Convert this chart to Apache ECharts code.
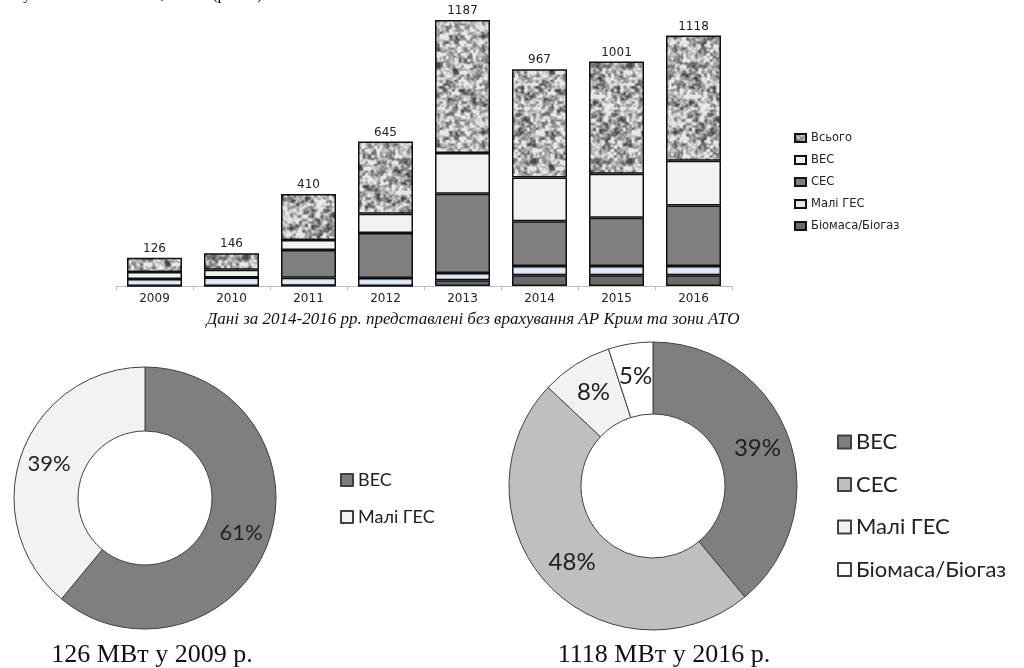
<!DOCTYPE html>
<html><head><meta charset="utf-8">
<script src="https://cdn.jsdelivr.net/npm/echarts@6/dist/echarts.min.js"></script>
<style>html,body{margin:0;padding:0;background:#fff}#c{width:1024px;height:668px}</style>
</head><body><div id="c"></div>
<script>
// ---- data ----
const years = ['2009','2010','2011','2012','2013','2014','2015','2016'];
const biomass    = [0, 0, 3, 0, 51, 95, 95, 95];
const smallHydro = [62, 76, 71, 71, 65, 83, 83, 83];
const solar      = [0, 0, 247, 402, 708, 399, 431, 541];
const wind       = [64, 70, 89, 172, 363, 390, 392, 399];
const totals     = [126, 146, 410, 645, 1187, 967, 1001, 1118];
const barLegend  = ['Всього','ВЕС','СЕС','Малі ГЕС','Біомаса/Біогаз'];
const pie2009Names = ['ВЕС','Малі ГЕС'];
const pie2009Vals  = [61, 39];
const pie2016Names = ['ВЕС','СЕС','Малі ГЕС','Біомаса/Біогаз'];
const pie2016Vals  = [39, 48, 8, 5];
const captionNote = 'Дані за 2014-2016 рр. представлені без врахування АР Крим та зони АТО';
const caption2009 = '126 МВт у 2009 р.';
const caption2016 = '1118 МВт у 2016 р.';
const topText = 'потужність склала 1118,7 МВт (рис. 4).';

// granite-like texture (deterministic)
function makeTexture(){
  const S=96, cv=document.createElement('canvas'); cv.width=cv.height=S;
  const ctx=cv.getContext('2d'); const img=ctx.createImageData(S,S);
  function h(i,j,p){ i=((i%p)+p)%p; j=((j%p)+p)%p; const s=Math.sin(i*127.1+j*311.7+p*74.7)*43758.5453; return s-Math.floor(s); }
  function noise(x,y,cell){ const p=S/cell, gx=x/cell, gy=y/cell, i=Math.floor(gx), j=Math.floor(gy);
    const fx=gx-i, fy=gy-j, sx=fx*fx*(3-2*fx), sy=fy*fy*(3-2*fy);
    const a=h(i,j,p), b=h(i+1,j,p), c=h(i,j+1,p), d=h(i+1,j+1,p);
    return a+(b-a)*sx+(c-a)*sy+(a-b-c+d)*sx*sy; }
  for(let y=0;y<S;y++) for(let x=0;x<S;x++){
    const v=0.3*noise(x,y,6)+0.45*noise(x,y,3)+0.25*noise(x,y,2);
    let g=170+(0.5-v)*340; g=Math.max(70,Math.min(232,g));
    const k=(y*S+x)*4; img.data[k]=g; img.data[k+1]=g; img.data[k+2]=g; img.data[k+3]=255;
  }
  ctx.putImageData(img,0,0); return cv;
}
const tex = makeTexture();
const hydroFill = {type:'linear',x:0,y:0,x2:0,y2:1,colorStops:[{offset:0,color:'#b6c8e8'},{offset:0.5,color:'#e9eff9'},{offset:1,color:'#c3d3ee'}]};

const FONT = 'Lato, "Open Sans", sans-serif';
const SMALL = '"DejaVu Sans", sans-serif';
const barBorder = {borderColor:'#111', borderWidth:1.5};

function barSeries(name, data, color){
  return {name, type:'bar', stack:'t', data, barWidth:55,
    itemStyle:Object.assign({color}, barBorder), emphasis:{disabled:true}};
}
const totalSeries = barSeries('Всього', totals, {image:tex, repeat:'repeat'});
totalSeries.label = {show:true, position:'top', distance:3, fontSize:12, color:'#222', fontFamily:SMALL};

const pieColors2009 = ['#7f7f7f','#f2f2f2'];
const pieColors2016 = ['#7f7f7f','#bfbfbf','#f2f2f2','#ffffff'];
const pieItem = {borderColor:'#404040', borderWidth:1};

const chart = echarts.init(document.getElementById('c'), null, {renderer:'canvas'});
chart.setOption({
  animation:false,
  textStyle:{fontFamily:FONT},
  grid:{left:116, right:292, top:17, bottom:382},
  xAxis:{type:'category', data:years,
    axisLine:{lineStyle:{color:'#bdbdbd', width:1}},
    axisTick:{show:true, length:4, lineStyle:{color:'#bdbdbd'}},
    axisLabel:{fontSize:12, color:'#222', margin:7, fontFamily:SMALL}},
  yAxis:{type:'value', min:0, max:2400, show:false, splitLine:{show:false}},
  legend:[
    {data:barLegend, orient:'vertical', left:794, top:131.5, padding:0, itemWidth:11, itemHeight:8, itemGap:9,
     icon:'rect', selectedMode:false, textStyle:{fontSize:11.5, lineHeight:13, color:'#222', fontFamily:SMALL}},
    {data:pie2009Names.map(n=>'a#'+n), orient:'vertical', left:340, top:470, padding:0, itemWidth:12, itemHeight:12, itemGap:17,
     icon:'rect', selectedMode:false, formatter:n=>n.split('#')[1], textStyle:{fontSize:18, lineHeight:20, color:'#222', fontFamily:FONT}},
    {data:pie2016Names.map(n=>'b#'+n), orient:'vertical', left:837, top:430, padding:0, itemWidth:13, itemHeight:13, itemGap:18.5,
     icon:'rect', selectedMode:false, formatter:n=>n.split('#')[1], textStyle:{fontSize:22, lineHeight:24, color:'#222', fontFamily:FONT}}
  ],
  series:[
    barSeries('Біомаса/Біогаз', biomass, '#6a6a6a'),
    barSeries('Малі ГЕС', smallHydro, hydroFill),
    barSeries('СЕС', solar, '#7f7f7f'),
    barSeries('ВЕС', wind, '#f2f2f2'),
    totalSeries,
    {type:'pie', center:[145,498], radius:[67,131], startAngle:90, clockwise:true, silent:true,
     data:pie2009Names.map((n,i)=>({name:'a#'+n, value:pie2009Vals[i], itemStyle:Object.assign({color:pieColors2009[i]}, pieItem)})),
     label:{show:true, position:'inside', formatter:p=>Math.round(p.percent)+'%', fontSize:22, color:'#222', fontFamily:FONT},
     labelLine:{show:false}, emphasis:{disabled:true}},
    {type:'pie', center:[653,486], radius:[72,144], startAngle:90, clockwise:true, silent:true,
     data:pie2016Names.map((n,i)=>({name:'b#'+n, value:pie2016Vals[i], itemStyle:Object.assign({color:pieColors2016[i]}, pieItem)})),
     label:{show:true, position:'inside', formatter:p=>Math.round(p.percent)+'%', fontSize:24, color:'#222', fontFamily:FONT},
     labelLine:{show:false}, emphasis:{disabled:true}}
  ],
  graphic:[
    {type:'text', left:0, top:-13, style:{text:topText, font:'16px "Liberation Serif", serif', fill:'#111'}},
    {type:'text', x:473, y:320, style:{text:captionNote, font:'italic 17px "Liberation Serif", serif', fill:'#111', align:'center', verticalAlign:'middle'}},
    {type:'text', x:152, y:655, style:{text:caption2009, font:'26px "Liberation Serif", serif', fill:'#111', align:'center', verticalAlign:'middle'}},
    {type:'text', x:664, y:655, style:{text:caption2016, font:'26px "Liberation Serif", serif', fill:'#111', align:'center', verticalAlign:'middle'}}
  ]
});
</script></body></html>
